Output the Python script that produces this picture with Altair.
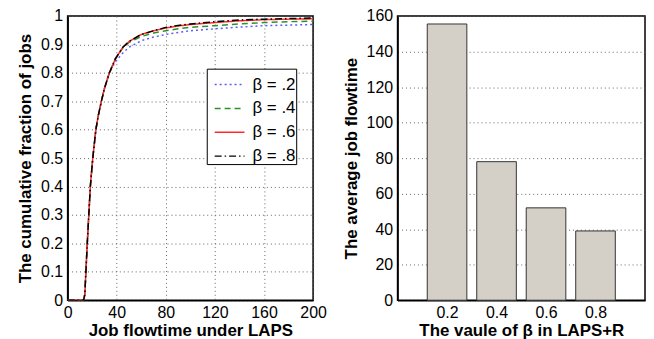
import altair as alt
import pandas as pd

# ---- Left panel: CDF of job flowtime under LAPS ----
x_vals = [0, 13, 14, 16, 18.5, 20.5, 23, 25, 27.5, 30, 34, 39, 45, 50, 60, 70, 80, 90, 100, 120, 140, 160, 180, 200]
cdf_b2 = [0, 0, 0.02, 0.2, 0.4, 0.5, 0.6, 0.65, 0.7, 0.745, 0.8, 0.84, 0.87, 0.89, 0.913, 0.926, 0.935, 0.942, 0.948, 0.955, 0.961, 0.966, 0.968, 0.970]
cdf_b4 = [0, 0, 0.02, 0.2, 0.4, 0.5, 0.6, 0.65, 0.7, 0.745, 0.8, 0.85, 0.888, 0.907, 0.928, 0.940, 0.948, 0.955, 0.960, 0.966, 0.972, 0.977, 0.980, 0.982]
cdf_b6 = [0, 0, 0.02, 0.2, 0.4, 0.5, 0.6, 0.65, 0.7, 0.745, 0.8, 0.85, 0.89, 0.91, 0.935, 0.948, 0.958, 0.965, 0.970, 0.977, 0.983, 0.987, 0.989, 0.990]
cdf_b8 = [0, 0, 0.02, 0.2, 0.4, 0.5, 0.6, 0.65, 0.7, 0.745, 0.8, 0.85, 0.89, 0.91, 0.935, 0.948, 0.960, 0.967, 0.972, 0.980, 0.986, 0.989, 0.991, 0.993]
series_labels = ["β = .2", "β = .4", "β = .6", "β = .8"]
series_colors = ["#5a5aff", "#2a922a", "#ff2a2a", "#000000"]
series_dashes = [[2, 3], [6, 4], [1, 0], [7, 3, 1.5, 3]]

x_ticks = [0, 40, 80, 120, 160, 200]
y_ticks = [0, 0.1, 0.2, 0.3, 0.4, 0.5, 0.6, 0.7, 0.8, 0.9, 1]

# ---- Right panel: average job flowtime vs beta ----
beta_vals = [0.2, 0.4, 0.6, 0.8]
avg_flow = [155.5, 78, 52, 39]
bar_y_ticks = [0, 20, 40, 60, 80, 100, 120, 140, 160]

rows = []
for lab, ys in zip(series_labels, [cdf_b2, cdf_b4, cdf_b6, cdf_b8]):
    for i, (xv, yv) in enumerate(zip(x_vals, ys)):
        rows.append({"x": xv, "y": yv, "series": lab, "order": i})
cdf_df = pd.DataFrame(rows)
bar_df = pd.DataFrame({"beta": beta_vals, "flow": avg_flow})

FONT = "Liberation Sans"

legend_spec = dict(
    orient="none", legendX=140, legendY=53, title=None,
    fillColor="white", strokeColor="black", padding=0,
    labelFontSize=17, labelFont=FONT, labelColor="black",
    symbolType="stroke", symbolSize=900, symbolStrokeWidth=1.5,
    symbolOffset=7, rowPadding=-6.3, labelOffset=7,
)

left = alt.Chart(cdf_df).mark_line(strokeWidth=1.5, clip=True).encode(
    x=alt.X("x:Q", scale=alt.Scale(domain=[0, 200], nice=False),
            axis=alt.Axis(values=x_ticks, title="Job flowtime under LAPS", labelFlush=False,
                          labelPadding=4, titlePadding=2)),
    y=alt.Y("y:Q", scale=alt.Scale(domain=[0, 1], nice=False),
            axis=alt.Axis(values=y_ticks, format="~g", title="The cumulative fraction of jobs",
                          labelPadding=5, titlePadding=6)),
    color=alt.Color("series:N", scale=alt.Scale(domain=series_labels, range=series_colors),
                    legend=alt.Legend(**legend_spec)),
    strokeDash=alt.StrokeDash("series:N", scale=alt.Scale(domain=series_labels, range=series_dashes),
                              legend=alt.Legend(**legend_spec)),
    order="order:Q",
).properties(width=247, height=286)

right = alt.Chart(bar_df).transform_calculate(
    x0="datum.beta - 0.08", x1="datum.beta + 0.08"
).mark_rect(fill="#d4d0c8", stroke="#333333", strokeWidth=1).encode(
    x=alt.X("x0:Q", scale=alt.Scale(domain=[0, 1], nice=False),
            axis=alt.Axis(values=beta_vals, format=".1f", grid=False, labelPadding=4, titlePadding=2,
                          title="The vaule of β in LAPS+R")),
    x2="x1:Q",
    y=alt.Y("flow:Q", scale=alt.Scale(domain=[0, 160], nice=False),
            axis=alt.Axis(values=bar_y_ticks, title="The average job flowtime",
                          labelPadding=5, titlePadding=6)),
    y2=alt.datum(0),
).properties(width=249, height=286)

chart = alt.hconcat(left, right, spacing=13).properties(
    padding={"left": 8, "top": -2, "right": 0, "bottom": 5}
).configure_axis(
    labelFont=FONT, labelFontSize=16, labelColor="black",
    titleFont=FONT, titleFontSize=17, titleFontWeight="bold", titleColor="black",
    domainColor="black", domainWidth=1.5, ticks=False,
    grid=True, gridDash=[1, 3], gridColor="#555555", gridOpacity=0.9, gridWidth=1,
).configure_view(stroke="black", strokeWidth=1.5)

chart.save("out.html", embed_options={"renderer": "svg", "actions": False})
